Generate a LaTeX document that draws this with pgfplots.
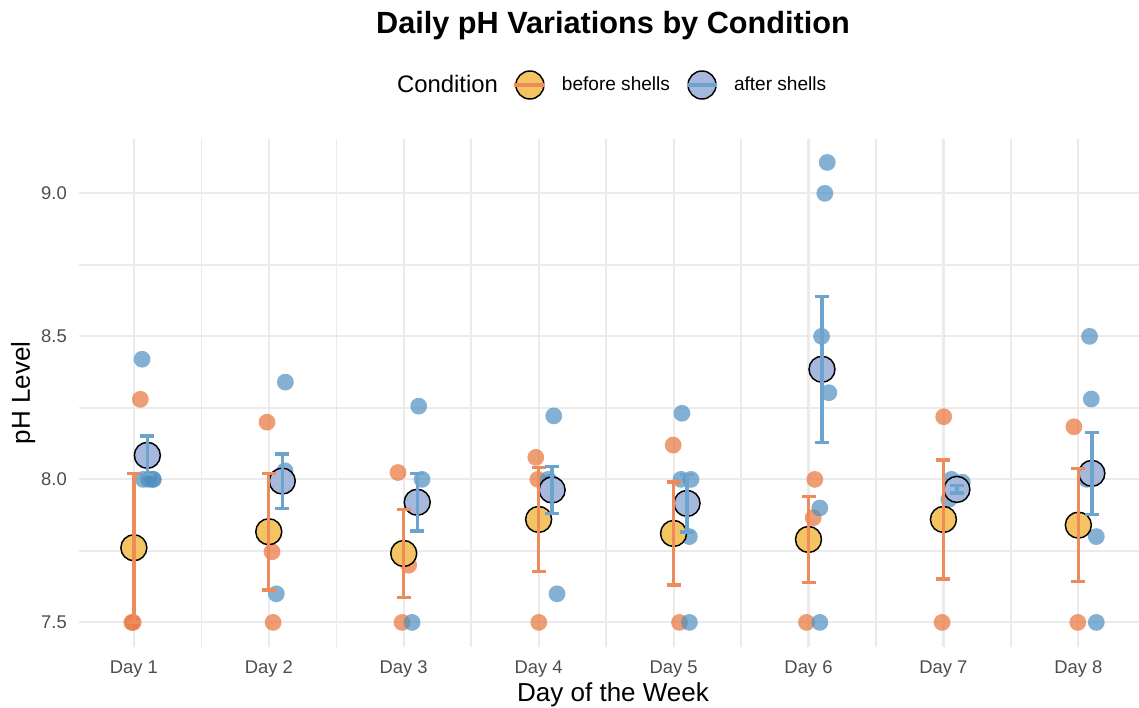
\documentclass[border=0pt]{standalone}
\usepackage{fontspec}
\setmainfont{Liberation Sans}
\usepackage{pgfplots}
\usepackage{pgfplotstable}
\pgfplotsset{compat=1.18}

\definecolor{ptorange}{HTML}{E8743B}
\definecolor{ptblue}{HTML}{4E8FC0}
\definecolor{barorange}{HTML}{EE8B5B}
\definecolor{barblue}{HTML}{6CA4CD}
\definecolor{meanorange}{HTML}{F5C462}
\definecolor{meanblue}{HTML}{A6B8DC}
\definecolor{gridgray}{HTML}{EBEBEB}
\definecolor{ticktext}{HTML}{4D4D4D}

% individual readings (jittered x)
\pgfplotstableread{
x y
0.985 7.5
0.995 7.5
1.048 8.28
1.987 8.20
2.024 7.747
2.032 7.5
2.958 8.024
3.037 7.70
2.988 7.5
3.979 8.077
3.994 8.0
4.001 7.5
4.997 8.12
5.044 7.5
5.010 7.81
5.985 7.5
6.035 7.866
6.047 8.0
7.002 8.219
6.990 7.5
7.010 7.86
7.967 8.184
7.996 7.5
8.005 7.84
}\beforepts

\pgfplotstableread{
x y
1.061 8.42
1.070 8.0
1.110 8.0
1.140 8.0
1.145 8.0
2.123 8.34
2.056 7.60
2.070 8.0
2.110 8.0
2.120 8.03
3.111 8.256
3.136 8.0
3.062 7.5
4.112 8.222
4.090 7.99
4.130 7.97
4.136 7.60
4.070 8.0
5.062 8.231
5.055 8.0
5.129 8.0
5.117 7.80
5.117 7.5
6.139 9.108
6.121 9.0
6.097 8.5
6.151 8.303
6.084 7.9
6.084 7.5
7.040 7.93
7.060 8.0
7.140 7.99
7.100 7.95
8.083 8.5
8.096 8.281
8.060 8.0
8.133 7.80
8.133 7.5
}\afterpts

% means and standard errors
\pgfplotstableread{
x y e
1 7.761 0.260
2 7.817 0.204
3 7.741 0.153
4 7.860 0.182
5 7.811 0.180
6 7.790 0.150
7 7.860 0.208
8 7.840 0.197
}\beforemean

\pgfplotstableread{
x y e
1.1 8.084 0.068
2.1 7.994 0.095
3.1 7.920 0.100
4.1 7.963 0.082
5.1 7.916 0.100
6.1 8.385 0.255
7.1 7.965 0.013
8.1 8.021 0.144
}\aftermean

\begin{document}
\begin{tikzpicture}
\path[use as bounding box] (0,0) rectangle (854.25pt,530.25pt);
\begin{axis}[
    at={(58.9pt,45pt)}, anchor=south west,
    width=795.4pt, height=381pt, scale only axis,
    xmin=0.59, xmax=8.45, ymin=7.414, ymax=9.19,
    clip marker paths=true,
    xtick={1,...,8},
    xticklabels={Day 1,Day 2,Day 3,Day 4,Day 5,Day 6,Day 7,Day 8},
    minor xtick={1.5,2.5,3.5,4.5,5.5,6.5,7.5},
    ytick={7.5,8,8.5,9},
    minor ytick={7.75,8.25,8.75},
    grid=both,
    major grid style={color=gridgray, line width=1.6pt},
    minor grid style={color=gridgray, line width=1.1pt},
    axis line style={draw=none},
    major tick length=0pt, minor tick length=0pt,
    /pgf/number format/assume math mode=true,
    ticklabel style={font=\fontsize{13.8}{16}\selectfont, text=ticktext, inner sep=0pt},
    yticklabel style={xshift=-8.6pt, /pgf/number format/fixed, /pgf/number format/fixed zerofill, /pgf/number format/precision=1},
    xticklabel style={yshift=-10pt},
    xlabel={Day of the Week},
    ylabel={pH Level},
    label style={font=\fontsize{19.5}{22}\selectfont},
    xlabel style={at={(axis description cs:0.504,0)}, anchor=center, yshift=-36pt},
    ylabel style={at={(axis description cs:0,0.5)}, anchor=center, yshift=41.6pt},
    title={Daily pH Variations by Condition},
    title style={font=\fontsize{23}{26}\selectfont\bfseries, at={(axis description cs:0.504,1)}, anchor=center, yshift=78.75pt},
    legend columns=-1,
    legend style={draw=none, fill=none, at={(axis description cs:0.504,1)}, anchor=center, yshift=40.5pt, xshift=-6.5pt,
        font=\fontsize{14.3}{16}\selectfont, nodes={inner sep=0pt}, column sep=10.9pt},
]
\addlegendimage{empty legend}
\addlegendentry{\fontsize{17.9}{20}\selectfont Condition}
\addlegendimage{legend image code/.code={
    \fill[meanorange, draw=black, line width=1.1pt] (0pt,0pt) circle (10.5pt);
    \draw[barorange, line width=3pt] (-11.6pt,0pt) -- (11.6pt,0pt);}}
\addlegendentry{before shells}
\addlegendimage{legend image code/.code={
    \fill[meanblue, draw=black, line width=1.1pt] (0pt,0pt) circle (10.5pt);
    \draw[barblue, line width=3pt] (-11.6pt,0pt) -- (11.6pt,0pt);}}
\addlegendentry{after shells}

% individual readings
\addplot[forget plot, only marks, mark=*, mark size=6.3pt, color=ptorange,
    mark options={fill=ptorange, fill opacity=0.7, draw opacity=0}] table[x=x,y=y] {\beforepts};
\addplot[forget plot, only marks, mark=*, mark size=6.3pt, color=ptblue,
    mark options={fill=ptblue, fill opacity=0.7, draw opacity=0}] table[x=x,y=y] {\afterpts};

% mean markers
\addplot[forget plot, only marks, mark=*, mark size=9.75pt,
    mark options={fill=meanorange, draw=black, line width=1.1pt}] table[x=x,y=y] {\beforemean};
\addplot[forget plot, only marks, mark=*, mark size=9.75pt,
    mark options={fill=meanblue, draw=black, line width=1.1pt}] table[x=x,y=y] {\aftermean};

% error bars (mean +- se)
\addplot[forget plot, draw=none, mark=none,
    error bars/.cd, y dir=both, y explicit, error mark=none,
    error bar style={draw=barorange, line width=2.5pt}]
    table[x=x,y=y,y error=e] {\beforemean};
\addplot[forget plot, draw=none, mark=none,
    error bars/.cd, y dir=both, y explicit, error mark=none,
    error bar style={draw=barblue, line width=2.5pt}]
    table[x=x,y=y,y error=e] {\aftermean};
% caps
\addplot[forget plot, only marks, mark=-, mark size=5.25pt, color=barorange,
    mark options={line width=2.5pt}] table[x=x, y expr=\thisrow{y}+\thisrow{e}] {\beforemean};
\addplot[forget plot, only marks, mark=-, mark size=5.25pt, color=barorange,
    mark options={line width=2.5pt}] table[x=x, y expr=\thisrow{y}-\thisrow{e}] {\beforemean};
\addplot[forget plot, only marks, mark=-, mark size=5.25pt, color=barblue,
    mark options={line width=2.5pt}] table[x=x, y expr=\thisrow{y}+\thisrow{e}] {\aftermean};
\addplot[forget plot, only marks, mark=-, mark size=5.25pt, color=barblue,
    mark options={line width=2.5pt}] table[x=x, y expr=\thisrow{y}-\thisrow{e}] {\aftermean};
\end{axis}
\end{tikzpicture}
\end{document}
